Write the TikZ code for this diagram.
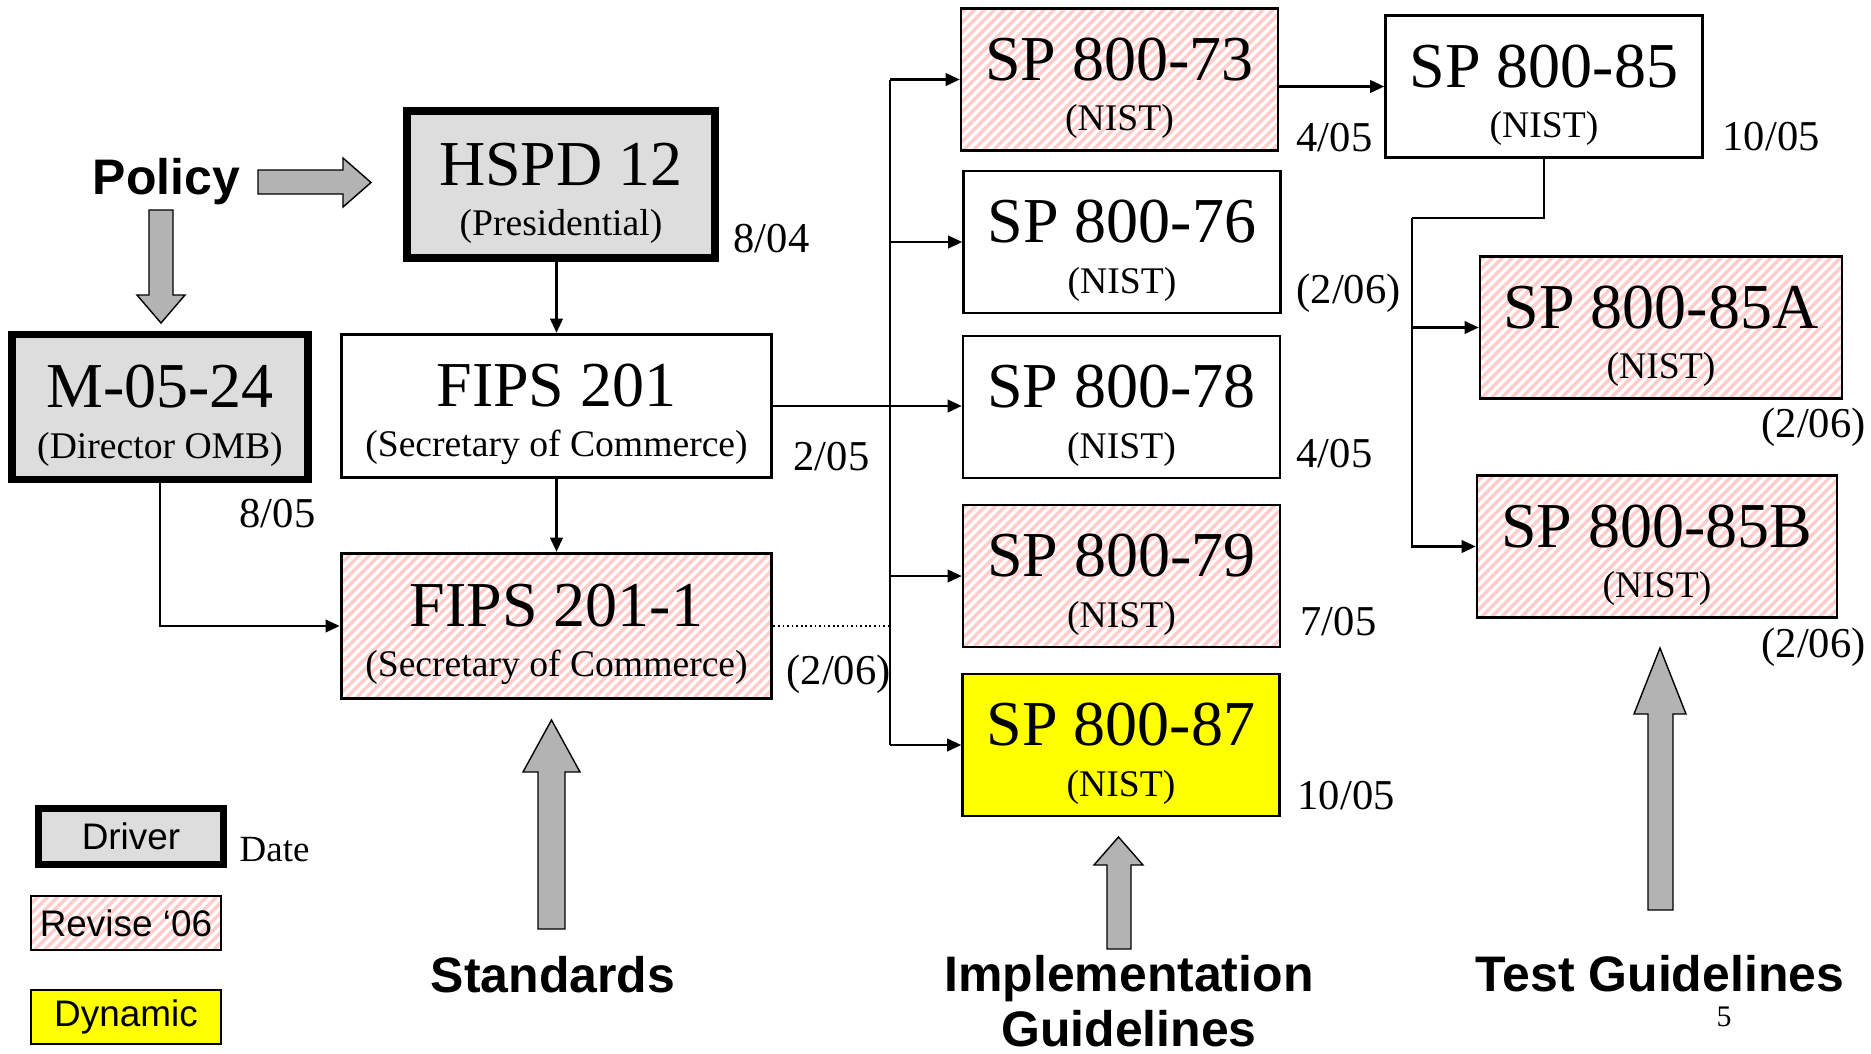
\documentclass[tikz,border=0pt]{standalone}
\usepackage{fontspec}
\setmainfont{Liberation Serif}
\setsansfont{Liberation Sans}
\usetikzlibrary{arrows.meta, patterns.meta}
\definecolor{drivergray}{HTML}{DDDDDD}
\definecolor{stripepink}{HTML}{FFCCCC}
\definecolor{dynyellow}{HTML}{FFFF00}
\definecolor{arrowgray}{HTML}{B3B3B3}
\newcommand{\doctitle}[1]{{\fontsize{18.2}{20}\selectfont\rule{0pt}{17pt}#1}}
\tikzstyle{doc} = [draw, line width=0.7pt, align=center, inner sep=0pt, minimum width=3.17cm, minimum height=1.42cm, font=\fontsize{10.7}{14.3}\selectfont]
\tikzstyle{hatch} = [pattern={Lines[angle=45, distance=2pt, line width=1pt]}, pattern color=stripepink]
\tikzstyle{driver} = [doc, fill=drivergray, line width=2.2pt]
\tikzstyle{revise} = [doc, hatch]
\tikzstyle{dynamic} = [doc, fill=dynyellow]
\tikzstyle{date} = [anchor=base west, inner sep=0pt, font=\fontsize{12.1}{14}\selectfont]
\tikzstyle{heading} = [inner sep=0pt, align=center, font=\fontsize{14.2}{15.6}\selectfont\sffamily\bfseries]
\tikzstyle{key} = [draw, inner sep=0pt, font=\fontsize{10.5}{12}\selectfont\sffamily]
\tikzstyle{wire} = [line width=0.6pt]
\tikzstyle{link} = [wire, -{Triangle[length=4pt, width=3.6pt]}]
\tikzstyle{bigarrow} = [draw, line width=0.4pt, fill=arrowgray]

\begin{document}
\begin{tikzpicture}[x=0.01cm, y=-0.01cm]
    \useasboundingbox (0,0) rectangle (1871,1054);
    % grey block arrows
    \draw[bigarrow] (258,170) -- (343,170) -- (343,158) -- (371,182.5) -- (343,207) -- (343,194) -- (258,194) -- cycle;
    \draw[bigarrow] (149,210) -- (173,210) -- (173,295) -- (185,295) -- (161,323) -- (137,295) -- (149,295) -- cycle;
    \draw[bigarrow] (538,929) -- (538,772) -- (523,772) -- (551.5,720) -- (580,772) -- (565,772) -- (565,929) -- cycle;
    \draw[bigarrow] (1107,949) -- (1107,865) -- (1094,865) -- (1118.5,837) -- (1143,865) -- (1131,865) -- (1131,949) -- cycle;
    \draw[bigarrow] (1648,910) -- (1648,714) -- (1634,714) -- (1660,648) -- (1686,714) -- (1673,714) -- (1673,910) -- cycle;

    \node (hspd) [driver, minimum width=3.08cm, minimum height=1.47cm, line width=2.3pt] at (561,184.5) {\doctitle{HSPD 12}\\(Presidential)};
    \node (omb) [driver, minimum width=2.96cm, minimum height=1.45cm, line width=2.1pt] at (160,407) {\doctitle{M-05-24}\\(Director OMB)};
    \node (fips) [doc, minimum width=4.30cm, minimum height=1.43cm, line width=1pt] at (556.5,406) {\doctitle{FIPS 201}\\(Secretary of Commerce)};
    \node (fipsone) [revise, minimum width=4.30cm, minimum height=1.45cm, line width=1pt] at (556.5,626) {\doctitle{FIPS 201-1}\\(Secretary of Commerce)};
    \node (sp73) [revise] at (1119.5,79.5) {\doctitle{SP 800-73}\\(NIST)};
    \node (sp76) [doc] at (1122,242) {\doctitle{SP 800-76}\\(NIST)};
    \node (sp78) [doc] at (1121.5,407) {\doctitle{SP 800-78}\\(NIST)};
    \node (sp79) [revise] at (1121.5,576) {\doctitle{SP 800-79}\\(NIST)};
    \node (sp87) [dynamic] at (1121,745) {\doctitle{SP 800-87}\\(NIST)};
    \node (sp85) [doc] at (1544,86.5) {\doctitle{SP 800-85}\\(NIST)};
    \node (sp85a) [revise, minimum width=3.62cm] at (1661,327.5) {\doctitle{SP 800-85A}\\(NIST)};
    \node (sp85b) [revise, minimum width=3.60cm] at (1657,546.5) {\doctitle{SP 800-85B}\\(NIST)};

    \node (dhspd) [date] at (733,252) {8/04};
    \node (domb) [date] at (239,527) {8/05};
    \node (dfips) [date] at (793,470) {2/05};
    \node (dfipsone) [date] at (786,684) {(2/06)};
    \node (d73) [date] at (1296,151) {4/05};
    \node (d76) [date] at (1296,303) {(2/06)};
    \node (d78) [date] at (1296,467) {4/05};
    \node (d79) [date] at (1300,635) {7/05};
    \node (d87) [date] at (1297,809) {10/05};
    \node (d85) [date] at (1722,150) {10/05};
    \node (d85a) [date] at (1761,437) {(2/06)};
    \node (d85b) [date] at (1761,657) {(2/06)};

    \node (policy) [heading, anchor=base west] at (92,194) {Policy};
    \node (standards) [heading, anchor=base] at (553,992) {Standards};
    \node (impl) [heading, anchor=north] at (1129,955) {Implementation\\Guidelines};
    \node (testg) [heading, anchor=base] at (1660,991) {Test Guidelines};
    \node (pagenum) [anchor=base west, inner sep=0pt, font=\fontsize{8.5}{10}\selectfont] at (1716,1026) {5};

    % legend
    \node (keydriver) [key, fill=drivergray, line width=2pt, minimum width=1.85cm, minimum height=0.56cm] at (131,836.5) {Driver};
    \node (keydate) [anchor=base west, inner sep=0pt, font=\fontsize{10.5}{12}\selectfont] at (239,861) {Date};
    \node (keyrevise) [key, hatch, line width=0.6pt, minimum width=1.90cm, minimum height=0.54cm] at (126,923) {Revise ‘06};
    \node (keydynamic) [key, fill=dynyellow, line width=0.6pt, minimum width=1.90cm, minimum height=0.54cm] at (126,1017) {Dynamic};

    \coordinate (bus) at (890,85);
    \coordinate (split) at (1412,218);
    \draw[link] (hspd.south -| fips.north) -- (fips.north);
    \draw[link] (fips.south) -- (fipsone.north);
    \draw[link] (omb.south) |- (fipsone.west);
    \draw[wire] (bus |- sp73.west) -- (bus |- sp87.west);
    \foreach \n in {sp73, sp76, sp79, sp87}
        \draw[link] (bus |- \n.west) -- (\n.west);
    \draw[link] (fips.east) -- (fips.east -| sp78.west);
    \draw[wire, line width=0.5pt, dash pattern=on 0.5pt off 0.8pt] (fipsone.east) -- (bus |- fipsone.east);
    \draw[link] (sp73.east |- sp85.west) -- (sp85.west);
    \draw[wire] (sp85.south) |- (split);
    \draw[link] (split) |- (sp85b.west);
    \draw[link] (split |- sp85a.west) -- (sp85a.west);
\end{tikzpicture}
\end{document}
